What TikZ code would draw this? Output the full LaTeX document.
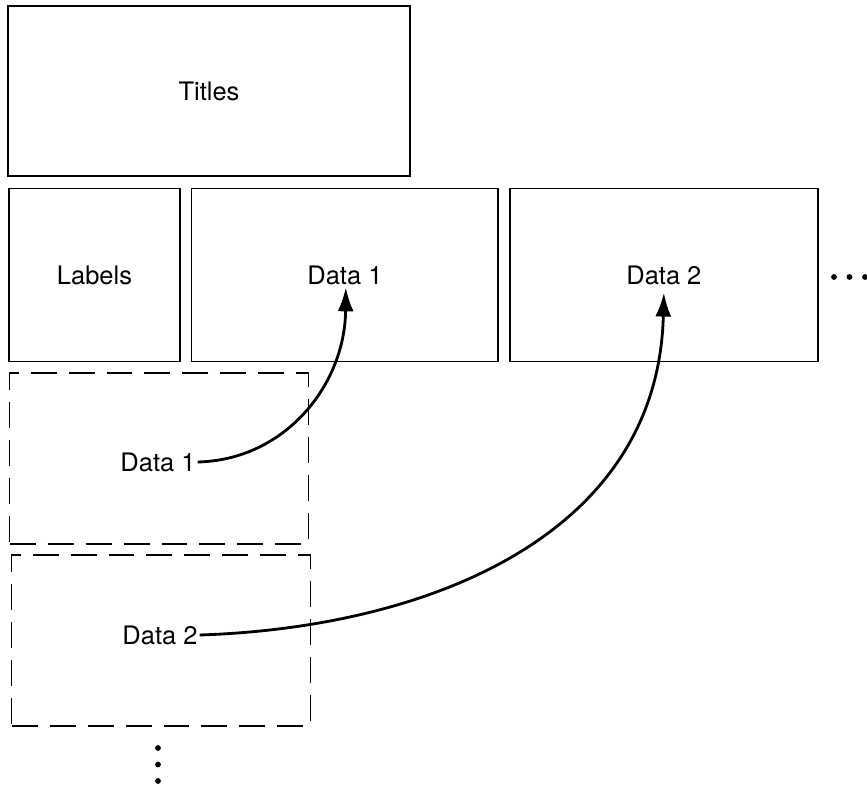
\documentclass[tikz,border=0pt]{standalone}
\usepackage{fontspec}
\setsansfont{TeX Gyre Heros}
\usetikzlibrary{chains,positioning,arrows.meta}

\begin{document}
\begin{tikzpicture}[x=0.02cm, y=-0.02cm,
    start chain=row going right,
    bloc/.style={draw, line width=1.1pt,
        minimum height=3.46cm, font=\sffamily\fontsize{14.5}{17}\selectfont,
        align=center, outer sep=0pt},
    dbloc/.style={draw, line width=1.1pt,
        dash pattern=on 0.52cm off 0.24cm,
        minimum width=5.98cm, minimum height=3.42cm, outer sep=0pt},
    txt/.style={font=\sffamily\fontsize{14.5}{17}\selectfont,
        inner sep=1pt},
    link/.style={line width=1.6pt, -{Latex[length=0.48cm,width=0.32cm]}},
    node distance = 0.23cm
    ]
    \useasboundingbox (0,0) rectangle (867,787);
    \node[bloc, minimum width=8.04cm, minimum height=3.4cm] (titles) at (209,91) {Titles};
    % header row
    \node[on chain, bloc, minimum width=3.42cm] (labels) at (94.5,275) {Labels};
    \node[on chain, bloc, minimum width=6.14cm] (head1) {Data 1};
    \node[on chain, bloc, minimum width=6.16cm] (head2) {Data 2};
    \foreach \i in {0,1,2}
        \fill (834+15.5*\i,277) circle (2.9);
    % data blocks
    \node[dbloc] (blk1) at (159,458.5) {};
    \node[dbloc] (blk2) at (161,640.5) {};
    \node[txt] (src1) at (158,462) {Data 1};
    \node[txt] (src2) at (160,635) {Data 2};
    \foreach \i in {0,1,2}
        \fill (158,748+16.5*\i) circle (2.9);
    % links
    \draw[link] (src1.east) .. controls (285,460) and (345,385) .. ([xshift=0.5pt, yshift=-7pt]head1.center);
    \draw[link] (src2.east) .. controls (420,628) and (658,540) .. ([yshift=-10pt]head2.center);
\end{tikzpicture}
\end{document}
